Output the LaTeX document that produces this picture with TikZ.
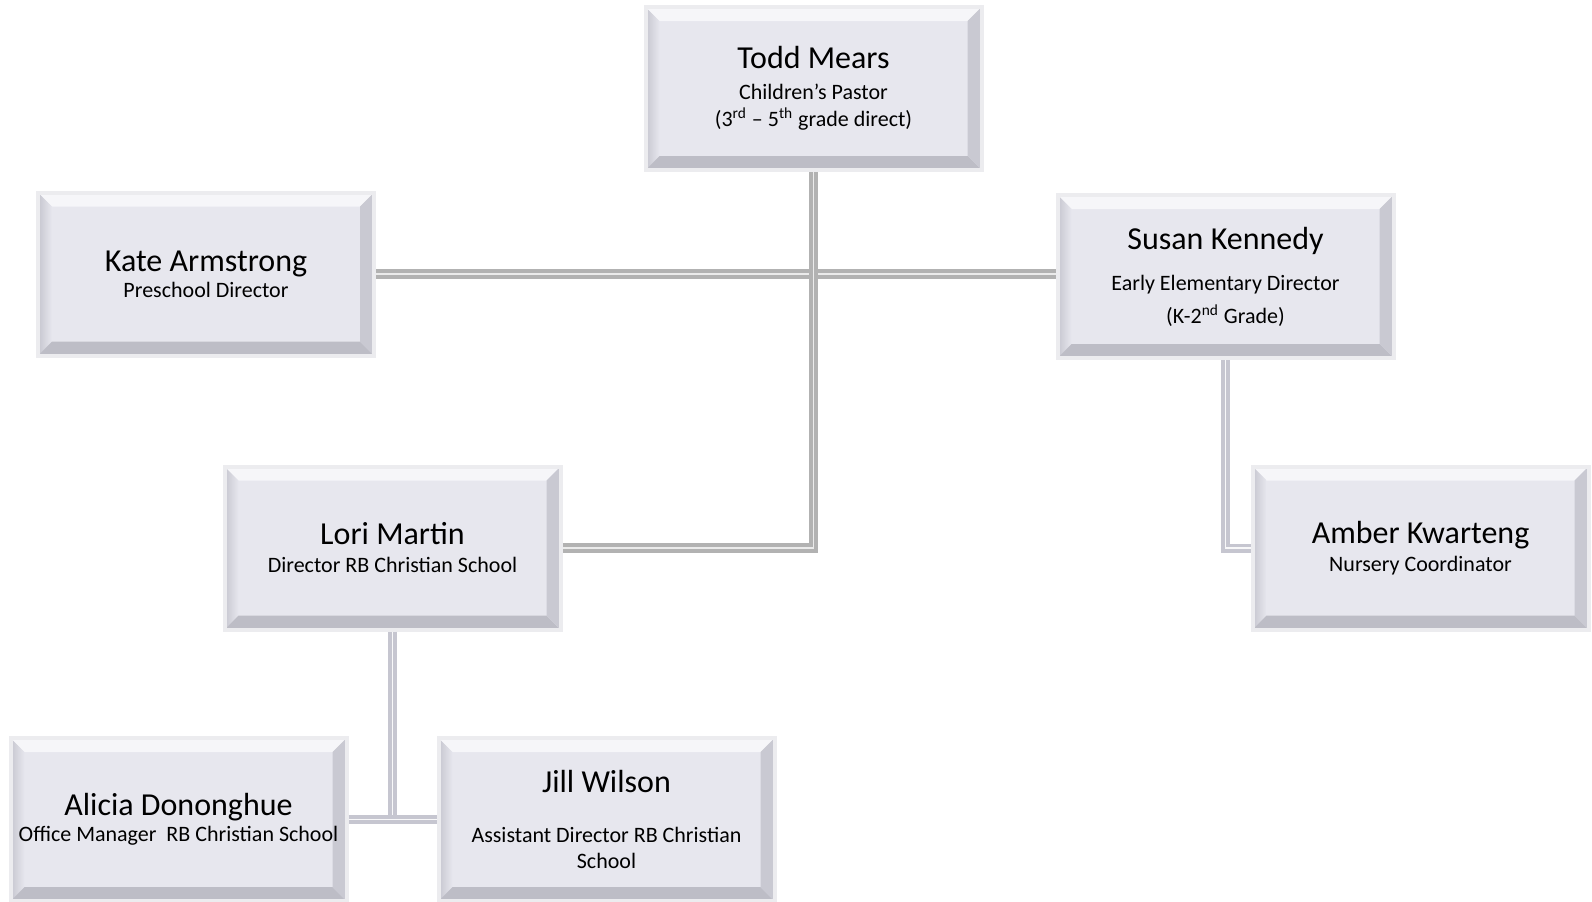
\documentclass[tikz,border=0pt]{standalone}
\usepackage{fontspec}
\setmainfont{Carlito}
\usetikzlibrary{positioning,calc}

\definecolor{cardfill}{HTML}{E7E7EE}
\definecolor{cardrim}{HTML}{ECECEF}
\definecolor{bevtop}{HTML}{F6F6F9}
\definecolor{bevleft}{HTML}{C6C6CF}
\definecolor{bevbottom}{HTML}{BDBDC6}
\definecolor{bevright}{HTML}{C9C9D2}
\definecolor{linkgray}{HTML}{B2B2B2}
\definecolor{linklav}{HTML}{C6C6D0}

\newcommand{\bev}{7pt}
\newcommand{\namefont}{\fontsize{16}{19}\selectfont}
\newcommand{\rolefont}{\fontsize{11}{13}\selectfont}

\tikzset{
  card/.style={rectangle, minimum width=168pt, minimum height=81.5pt,
    fill=cardfill, draw=cardrim, line width=2pt, align=center, inner sep=1pt,
    path picture={
      % bevel edges
      \fill[bevtop] (path picture bounding box.north west) -- (path picture bounding box.north east)
        -- ([shift={(-\bev,-\bev)}]path picture bounding box.north east)
        -- ([shift={(\bev,-\bev)}]path picture bounding box.north west) -- cycle;
      \shade[left color=bevleft, right color=cardfill] (path picture bounding box.north west)
        -- ([shift={(\bev,-\bev)}]path picture bounding box.north west)
        -- ([shift={(\bev,\bev)}]path picture bounding box.south west)
        -- (path picture bounding box.south west) -- cycle;
      \fill[bevbottom] (path picture bounding box.south west) -- (path picture bounding box.south east)
        -- ([shift={(-\bev,\bev)}]path picture bounding box.south east)
        -- ([shift={(\bev,\bev)}]path picture bounding box.south west) -- cycle;
      \fill[bevright] (path picture bounding box.north east)
        -- ([shift={(-\bev,-\bev)}]path picture bounding box.north east)
        -- ([shift={(-\bev,\bev)}]path picture bounding box.south east)
        -- (path picture bounding box.south east) -- cycle;
    }},
  link/.style={draw=linkgray, line width=2pt, double=white!92!black, double distance=0.9pt},
  sublink/.style={draw=linklav, line width=1.8pt, double=white!88!linklav, double distance=0.9pt},
}

\begin{document}
\begin{tikzpicture}[x=0.5pt, y=-0.5pt]
  \useasboundingbox (0,0) rectangle (1592,901);

  % Boxes
  \node[card] (todd) at (813.5,88.5)
    {\namefont Todd Mears\\[3.5pt]
     \rolefont Children’s Pastor\\[1.5pt]
     \rolefont (3\textsuperscript{rd} – 5\textsuperscript{th} grade direct)};
  \node[card] (kate) at (206,274)
    {\namefont Kate Armstrong\\[1pt]
     \rolefont Preschool Director};
  \node[card] (susan) at (1225.5,276.5)
    {\namefont Susan Kennedy\\[8.5pt]
     \rolefont Early Elementary Director\\[4.5pt]
     \rolefont (K-2\textsuperscript{nd} Grade)};
  \node[card] (lori) at (392.5,548)
    {\namefont Lori Martin\\[2pt]
     \rolefont Director RB Christian School};
  \node[card] (amber) at (1420.5,548)
    {\namefont Amber Kwarteng\\[2pt]
     \rolefont Nursery Coordinator};
  \node[card] (alicia) at (178.5,819.5)
    {\namefont Alicia Dononghue\\[1pt]
     \rolefont Office Manager\ \ RB Christian School};
  \node[card] (jill) at (606.5,819.5)
    {\namefont Jill Wilson\\[13pt]
     \rolefont Assistant Director RB Christian\\[1pt]
     \rolefont School};

  % Connectors
  \draw[link] (kate.east |- 0,274) -- (susan.west |- 0,274);
  \draw[link] (todd.south) -- (todd.south |- lori.east) -- (lori.east);
  \draw[sublink] (susan.south) -- (susan.south |- amber.west) -- (amber.west);
  \draw[sublink] (lori.south) -- (lori.south |- alicia.east);
  \draw[sublink] (alicia.east) -- (jill.west);
\end{tikzpicture}
\end{document}
